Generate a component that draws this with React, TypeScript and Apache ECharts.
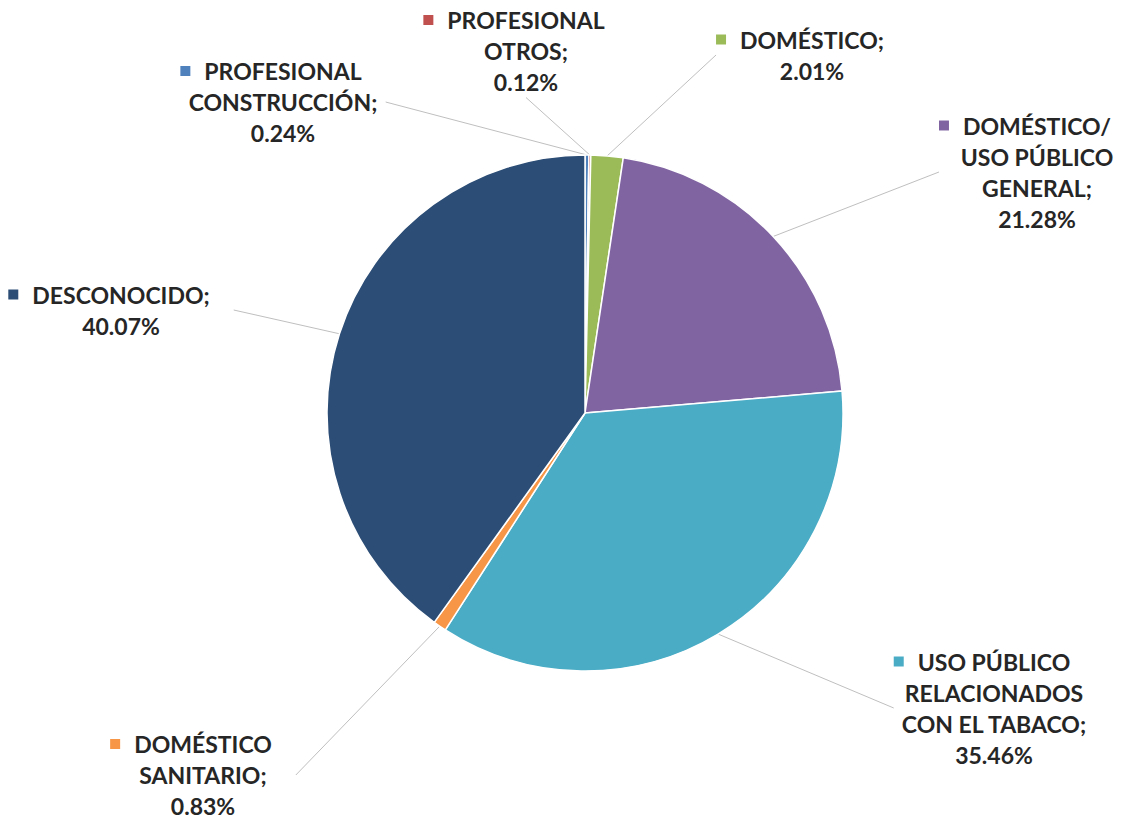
import React, { useEffect, useRef } from "react";
import * as echarts from "echarts";

// ---- data ----
const CATEGORIES = [
  "PROFESIONAL\nCONSTRUCCIÓN",
  "PROFESIONAL\nOTROS",
  "DOMÉSTICO",
  "DOMÉSTICO/\nUSO PÚBLICO\nGENERAL",
  "USO PÚBLICO\nRELACIONADOS\nCON EL TABACO",
  "DOMÉSTICO\nSANITARIO",
  "DESCONOCIDO",
];
const VALUES = [0.24, 0.12, 2.01, 21.28, 35.46, 0.83, 40.07];
const COLORS = ["#4F81BD", "#C0504D", "#9BBB59", "#8064A2", "#4BACC6", "#F79646", "#2C4D75"];

// ---- layout (label block centres) ----
const LABEL_POS: number[][] = [
  [283, 102],
  [526, 51],
  [812, 55],
  [1037, 172],
  [994, 708],
  [203, 775],
  [121, 310],
];

export default function App() {
  const ref = useRef<HTMLDivElement>(null);
  useEffect(() => {
    document.body.style.margin = "0";
    if (!ref.current) return;
    const chart = echarts.init(ref.current, undefined, { renderer: "svg" });
    const data = CATEGORIES.map((name, i) => ({
      name,
      value: VALUES[i],
      itemStyle: { color: COLORS[i] },
      label: { rich: { m: { backgroundColor: COLORS[i], width: 10, height: 10 } } },
    }));
    chart.setOption({
      animation: false,
      backgroundColor: "#ffffff",
      series: [
        {
          type: "pie",
          center: [585, 413],
          radius: 258,
          startAngle: 90,
          clockwise: true,
          avoidLabelOverlap: false,
          itemStyle: { borderColor: "#ffffff", borderWidth: 1.5 },
          data,
          label: {
            show: true,
            position: "outside",
            fontFamily: "Lato",
            fontWeight: "bold",
            fontSize: 23,
            color: "#262626",
            lineHeight: 31,
            align: "center",
            formatter: (p: any) => {
              const lines = String(p.name).split("\n");
              lines[lines.length - 1] = lines[lines.length - 1] + ";";
              const out = lines.map((l, i) =>
                i === 0 ? `{m|}{g|}{t|${l}}{g|}{s|}` : `{t|${l}}`
              );
              out.push(`{t|${Number(p.value).toFixed(2)}%}`);
              return out.join("\n");
            },
            rich: {
              t: {
                fontFamily: "Lato",
                fontWeight: "bold",
                fontSize: 23,
                color: "#262626",
                lineHeight: 31,
              },
              m: { width: 10, height: 10 },
              g: { width: 14, height: 10 },
              s: { width: 10, height: 10 },
            },
          },
          labelLine: {
            show: true,
            length: 20,
            length2: 0,
            lineStyle: { color: "#BFBFBF", width: 1 },
          },
          labelLayout: (params: any) => {
            const p = LABEL_POS[params.dataIndex];
            return { x: p[0], y: p[1], align: "center", verticalAlign: "middle" };
          },
        },
      ],
    });
    return () => chart.dispose();
  }, []);
  return <div ref={ref} style={{ width: 1124, height: 820 }} />;
}
